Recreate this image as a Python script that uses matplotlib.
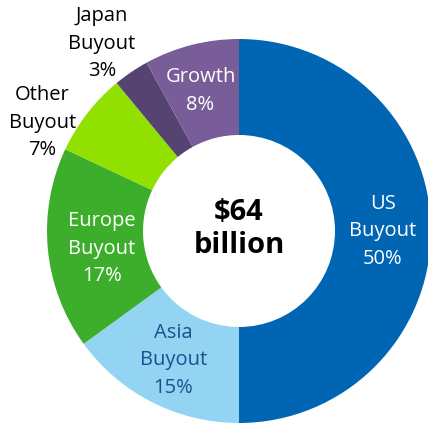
import numpy as np
import matplotlib.pyplot as plt

# -----------------------------
# Data
# -----------------------------
names = ["US\nBuyout", "Asia\nBuyout", "Europe\nBuyout", "Other\nBuyout",
         "Japan\nBuyout", "Growth"]
shares = [50, 15, 17, 7, 3, 8]
colors = ["#0066b3", "#92d4f1", "#3dae2b", "#92e000", "#554372", "#795d99"]
text_colors = ["white", "#1f4f8f", "white", "black", "black", "white"]
total_label = "$64\nbillion"

# label placement (fraction of radius, angle nudge in degrees)
label_dist = [0.75, 0.755, 0.72, 1.17, 1.21, 0.755]
label_nudge = [0, 0, 2, 9, 2, 1]

plt.rcParams['font.family'] = ['Open Sans', 'DejaVu Sans']

W, H = 428, 423
fig = plt.figure(figsize=(W / 100, H / 100), dpi=100)
ax = fig.add_axes([0, 0, 1, 1])

cx, cy, R = 239, 192, 192
wedges, _ = ax.pie(shares, colors=colors, startangle=90, counterclock=False,
                   radius=R, center=(cx, cy),
                   wedgeprops=dict(width=R * 0.5, linewidth=0))

for w, name, s, tc, d, dn in zip(wedges, names, shares, text_colors,
                                 label_dist, label_nudge):
    ang = np.deg2rad((w.theta1 + w.theta2) / 2 + dn)
    x = cx + d * R * np.cos(ang)
    y = cy + d * R * np.sin(ang)
    ax.text(x, y, f"{name}\n{s}%", ha="center", va="center", color=tc,
            fontsize=14.5, linespacing=1.5)

ax.text(cx, cy + 2, total_label, ha="center", va="center", fontsize=21,
        fontweight="bold", linespacing=1.2)

ax.set_xlim(0, W)
ax.set_ylim(0, H)
ax.set_aspect("equal")
ax.axis("off")

fig.savefig("out.png", dpi=100)
